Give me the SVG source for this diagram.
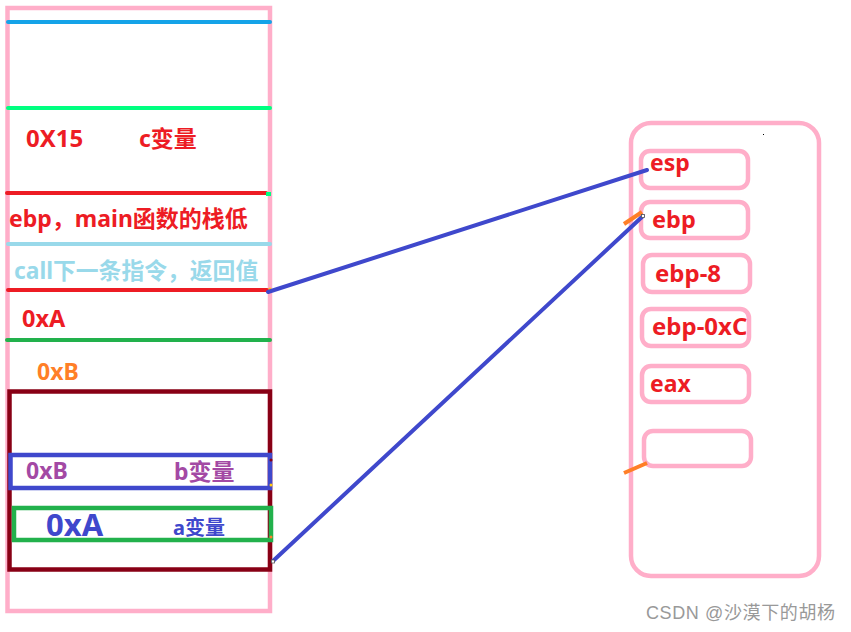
<svg xmlns="http://www.w3.org/2000/svg" width="851" height="632" viewBox="0 0 851 632">
<style>
text{font-family:"Noto Sans","Noto Sans CJK SC",sans-serif;font-weight:bold;}
.red{fill:#ED1C24;}
.pink{fill:none;stroke:#FFAEC9;stroke-width:4.5;}
.reg{fill:none;stroke:#FFAEC9;stroke-width:4.5;}
.ln{stroke-width:4;stroke-linecap:round;fill:none;}
.conn{stroke:#3F48CC;stroke-width:4;fill:none;stroke-linecap:round;}
.tick{stroke:#FF7F27;stroke-width:4;fill:none;}
</style>
<rect width="851" height="632" fill="#fff"/>
<g id="stack">
<rect class="pink" x="7.5" y="8" width="262.5" height="603"/>
<line class="ln" x1="8" y1="22" x2="270" y2="22" stroke="#15A3E8"/>
<line class="ln" x1="8" y1="108" x2="270" y2="108" stroke="#00FF80"/>
<line class="ln" x1="7" y1="193" x2="266" y2="193" stroke="#ED1C24"/>
<line x1="266" y1="194" x2="271" y2="194" stroke="#00FF80" stroke-width="4"/>
<line class="ln" x1="8" y1="244" x2="270" y2="244" stroke="#99D9EA"/>
<line class="ln" x1="8" y1="290" x2="267" y2="290" stroke="#ED1C24"/>
<line class="ln" x1="7" y1="340" x2="270" y2="340" stroke="#22B14C"/>
<rect x="9.5" y="391.5" width="260.5" height="178" fill="none" stroke="#880015" stroke-width="4.5"/>
<rect x="10.5" y="455" width="259.5" height="33" fill="none" stroke="#3F48CC" stroke-width="4.5"/>
<rect x="14" y="508" width="257" height="32" fill="none" stroke="#22B14C" stroke-width="4.5"/>
<circle cx="270" cy="289" r="1.6" fill="#FFC90E"/>
<circle cx="271" cy="460" r="1.5" fill="#880015"/>
<circle cx="271" cy="485" r="1.5" fill="#FFC90E"/>
<circle cx="271" cy="537" r="1.5" fill="#FF7F27"/>
<text class="red" x="26" y="147" font-size="24">0X15</text>
<text class="red" x="139" y="147" font-size="23">c变量</text>
<text class="red" x="9" y="227" font-size="23">ebp，main函数的栈低</text>
<text x="14" y="279" font-size="22.8" fill="#99D9EA">call下一条指令，返回值</text>
<text class="red" x="22" y="327" font-size="23.5">0xA</text>
<text x="37" y="380" font-size="23" fill="#FF7F27">0xB</text>
<text x="26" y="479" font-size="23" fill="#A349A4">0xB</text>
<text x="174" y="480" font-size="23" fill="#A349A4">b变量</text>
<text x="46" y="536" font-size="31" fill="#3F48CC">0xA</text>
<text x="173" y="535" font-size="20" fill="#3F48CC">a变量</text>
</g>
<g id="registers">
<rect class="pink" x="631" y="123" width="188" height="453" rx="20" ry="20"/>
<rect x="763" y="134" width="1" height="1" fill="#000"/>
</g>
<g id="reg-esp">
<rect class="reg" x="641" y="151" width="107" height="37" rx="9"/>
<text class="red" x="650" y="171" font-size="23">esp</text>
</g>
<g id="reg-ebp">
<rect class="reg" x="641" y="202" width="107" height="36" rx="9"/>
<text class="red" x="652" y="228" font-size="23.5">ebp</text>
</g>
<g id="reg-ebp8">
<rect class="reg" x="643" y="255" width="107" height="37" rx="9"/>
<text class="red" x="655" y="282" font-size="24">ebp-8</text>
</g>
<g id="reg-ebp0xC">
<rect class="reg" x="642" y="309" width="107" height="37" rx="9"/>
<text class="red" x="652" y="335" font-size="24">ebp-0xC</text>
</g>
<g id="reg-eax">
<rect class="reg" x="642" y="366" width="107" height="36" rx="9"/>
<text class="red" x="650" y="392" font-size="23">eax</text>
</g>
<g id="reg-empty">
<rect class="reg" x="644" y="431" width="107" height="35" rx="9"/>
</g>
<g id="connectors">
<line class="conn" x1="268" y1="292" x2="647" y2="170"/>
<line class="conn" x1="273" y1="561" x2="643" y2="216"/>
<line class="tick" x1="624" y1="224" x2="642" y2="212"/>
<line class="tick" x1="624" y1="473" x2="647" y2="463"/>
<rect x="271.5" y="560" width="3" height="3" fill="#fff" stroke="#555" stroke-width="0.8"/>
<rect x="641.5" y="214.5" width="3" height="3" fill="#fff" stroke="#555" stroke-width="0.8"/>
</g>
<text x="646" y="619" font-size="18" style="font-weight:normal;font-family:'Liberation Sans','Noto Sans CJK SC',sans-serif" fill="#999" textLength="189" lengthAdjust="spacing">CSDN @沙漠下的胡杨</text>
</svg>
